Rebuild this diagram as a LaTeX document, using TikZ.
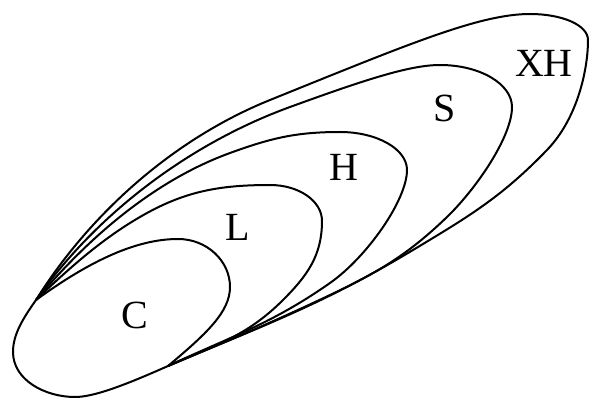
\documentclass[tikz,border=0pt]{standalone}
\usepackage{fontspec}
\setmainfont{Liberation Serif}
\begin{document}
\begin{tikzpicture}[x=1pt,y=1pt,
  region/.style={draw=black,line width=2pt,line join=round,line cap=round},
  lab/.style={font=\fontsize{40}{40}\selectfont,inner sep=0pt}]
\useasboundingbox (0,0) rectangle (590,-398);
\coordinate (A) at (36,-300);
\coordinate (B) at (168,-366);
% C (with the shared lower arc)
\draw[region] (A) to[out=36,in=180,out distance=60pt,in distance=45pt] (178,-239)
  to[out=0,in=90,out distance=29pt,in distance=26pt] (230,-287)
  to[out=270,in=40,out distance=25pt,in distance=50pt] (B)
  to[out=204,in=0,out distance=50pt,in distance=18pt] (75,-397)
  to[out=180,in=270,out distance=30pt,in distance=28pt] (13,-352)
  to[out=90,in=235,out distance=18pt,in distance=22pt] (A);
% L
\draw[region] (A) to[out=44,in=212,out distance=40pt,in distance=40pt] (130,-223)
  to[out=32,in=180] (270,-185)
  to[out=0,in=90,out distance=29pt,in distance=20pt] (322,-221)
  to[out=270,in=45] (283,-300)
  to[out=225,in=24] (B);
% H
\draw[region] (A) to[out=50,in=200,out distance=81pt,in distance=81pt] (230,-153)
  to[out=20,in=180] (340,-132)
  to[out=0,in=90,out distance=37pt,in distance=21pt] (407,-170)
  to[out=270,in=35,out distance=30pt,in distance=45pt] (330,-283)
  to[out=215,in=25] (B);
% S
\draw[region] (A) to[out=55,in=200,out distance=106pt,in distance=106pt] (290,-107)
  to[out=20,in=180,out distance=80pt,in distance=30pt] (440,-65)
  to[out=0,in=90,out distance=40pt,in distance=23pt] (512,-107)
  to[out=270,in=44,out distance=30pt,in distance=40pt] (447,-217)
  to[out=224,in=25] (313,-303)
  to[out=205,in=23] (B);
% XH
\draw[region] (A) to[out=58,in=202,out distance=103pt,in distance=103pt] (270,-100)
  to[out=22,in=180,out distance=150pt,in distance=50pt] (530,-14)
  to[out=0,in=90,out distance=32pt,in distance=15pt] (588,-40)
  to[out=270,in=46,out distance=28pt,in distance=45pt] (547,-150)
  to[out=226,in=31] (413,-250)
  to[out=211,in=23] (B);
% labels
\node[lab] (lC) at (135,-315) {C};
\node[lab] (lL) at (238,-227) {L};
\node[lab] (lH) at (344,-167) {H};
\node[lab] (lS) at (445,-108) {S};
\node[lab] (lXH) at (544,-63) {XH};
\end{tikzpicture}
\end{document}
